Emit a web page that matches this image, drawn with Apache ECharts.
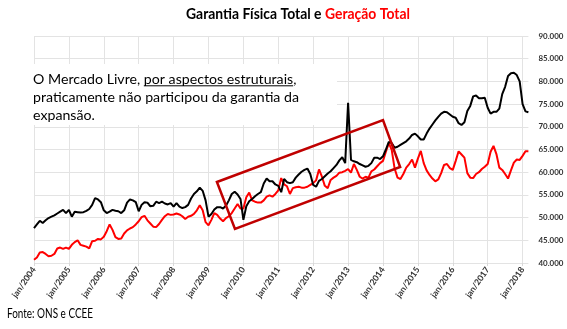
<!DOCTYPE html>
<html><head><meta charset="utf-8">
<script src="https://cdn.jsdelivr.net/npm/echarts@6/dist/echarts.min.js"></script>
<style>html,body{margin:0;padding:0;background:#fff}#c{width:567px;height:329px}</style>
</head><body><div id="c"></div>
<script>
// ---------- data ----------
const monthNames = ['jan','fev','mar','abr','mai','jun','jul','ago','set','out','nov','dez'];
const startYear = 2004;
const nPoints = 171; // jan/2004 .. mar/2018

const garantiaFisica = [
  47700,48500,49300,48800,49400,49900,50200,50500,50900,51300,51700,51000,
  51700,50200,51300,51200,51100,51200,51500,51900,52800,54300,54000,53400,
  51600,51000,51300,51700,51500,51400,51000,51600,53300,54000,53800,53400,
  51400,52800,53400,53300,52500,52600,53500,53200,53500,53100,52900,53200,
  52400,53200,52400,52100,52300,52800,54200,55200,55800,56600,55900,53800,
  50200,50800,51800,52300,52300,52000,52600,53800,55200,55700,55100,54100,
  49500,52500,53600,54100,54700,55200,55600,57500,58600,58000,58000,57300,
  57000,55600,58500,57800,57600,57800,58800,59500,60100,60500,60800,59600,
  57200,56800,58100,58500,59100,59700,60200,60900,61600,62600,63300,62000,
  75300,62700,62400,62200,61800,61500,61200,61400,62000,63200,63200,62900,
  63500,65000,66700,66400,65400,65600,66000,66400,66800,67400,68200,68500,
  67900,67200,67200,68500,69600,70500,71400,72200,72900,73300,73200,72700,
  72200,72000,70800,70400,71000,73500,74600,76700,76900,76300,76300,76400,
  74200,72900,73300,73300,74000,77200,78800,81200,81800,81900,81400,80000,
  75000,73400,73200
];
const geracao = [
  40700,41200,42300,42400,42000,41500,41600,42000,43200,43400,43100,43400,
  43100,44000,44600,45000,44000,43800,43600,43200,44800,44900,45300,45200,
  45800,47000,48500,47300,45700,45300,45400,46500,47200,47600,47900,48500,
  49200,50100,50400,49400,48700,48000,47900,48600,49500,50300,50800,50600,
  50700,50900,50700,50300,49700,50200,50400,50800,51600,52700,51600,49000,
  48300,49500,51000,50600,49800,49200,49900,50300,51000,52000,53000,52000,
  52000,54500,55500,53800,53500,53300,53300,53800,54600,54900,54600,55200,
  56000,58700,57300,56900,55200,56500,56700,56800,56600,56600,56800,57200,
  57600,58200,60600,59000,57000,56500,58300,58800,59200,59900,60000,60300,
  60700,59900,61800,60500,59000,58600,59000,58800,60200,60600,61300,62000,
  62500,64500,66400,64900,60800,58800,58500,59600,61000,61800,62800,61000,
  63000,64700,62000,60400,59400,58600,58000,58400,59800,61600,61800,60900,
  60500,62500,64600,63900,63200,59800,58800,58700,59600,60000,60700,61200,
  61800,64500,65800,64000,61000,60500,59600,58600,60400,62100,62800,62700,
  63600,64600,64600
];
const yMin = 40000, yMax = 90000, yStep = 5000;
// highlight box corners in data coordinates [month index, MW]
const boxCorners = [[62.9,57840],[120.0,71500],[125.9,61150],[69.1,47490]];

const titleBlack = 'Garantia Física Total e ';
const titleRed = 'Geração Total';
const noteLine1a = 'O Mercado Livre, ';
const noteLine1b = 'por aspectos estruturais';
const noteLine1c = ',';
const noteLine2 = 'praticamente não participou da garantia da';
const noteLine3 = 'expansão.';
const sourceText = 'Fonte: ONS e CCEE';

const categories = [];
for (let i = 0; i < nPoints; i++) categories.push(monthNames[i % 12] + '/' + (startYear + Math.floor(i / 12)));

// ---------- helpers ----------
const FONT = 'Lato';
const mctx = document.createElement('canvas').getContext('2d');
function textW(t, size, weight) { mctx.font = (weight || 'normal') + ' ' + size + 'px ' + FONT; return mctx.measureText(t).width; }
function fit(t, weight, target) { return 100 * target / textW(t, 100, weight); }

const titleSize = 14.2;
const titleScale = 224 / textW(titleBlack + titleRed, titleSize, 'bold');
const noteSize = 14;
const noteScale = 266 / textW(noteLine2, noteSize, 'normal');
const srcSize = 12.5;
const srcScale = 86 / textW(sourceText, srcSize, 'normal');
const xLabSize = fit('jan/2004', 'bold', 35);
const yLabSize = fit('90.000', 'bold', 25);

const chart = echarts.init(document.getElementById('c'), null, { renderer: 'canvas' });
const janOnly = (idx) => idx % 12 === 0;

chart.setOption({
  animation: false,
  backgroundColor: '#fff',
  grid: { left: 34, right: 567 - 528.4, top: 36, bottom: 66, containLabel: false },
  xAxis: {
    type: 'category', data: categories, boundaryGap: false,
    axisLine: { show: false },
    axisTick: { show: true, interval: janOnly, length: 3, lineStyle: { color: '#d9d9d9' } },
    splitLine: { show: true, interval: janOnly, lineStyle: { color: '#e3e3e3', width: 1 } },
    axisLabel: { interval: janOnly, rotate: 55, margin: 5, color: '#333', fontWeight: 'bold', fontSize: xLabSize, fontFamily: FONT }
  },
  yAxis: {
    type: 'value', position: 'right', min: yMin, max: yMax, interval: yStep,
    axisLine: { show: false }, axisTick: { show: false },
    splitLine: { lineStyle: { color: '#e3e3e3', width: 1 } },
    axisLabel: { margin: 10, color: '#333', fontWeight: 'bold', fontSize: yLabSize, fontFamily: FONT,
      formatter: v => (v / 1000).toFixed(0) + '.000' }
  },
  series: [
    { name: 'Garantia Física Total', type: 'line', data: garantiaFisica, showSymbol: false, symbol: 'none',
      lineStyle: { color: '#000', width: 2 }, itemStyle: { color: '#000' }, z: 3 },
    { name: 'Geração Total', type: 'line', data: geracao, showSymbol: false, symbol: 'none',
      lineStyle: { color: '#ff0000', width: 2 }, itemStyle: { color: '#ff0000' }, z: 2 }
  ]
});

function toPx(pt) {
  const i0 = Math.floor(pt[0]), f = pt[0] - i0;
  const a = chart.convertToPixel({ xAxisIndex: 0, yAxisIndex: 0 }, [i0, pt[1]]);
  const b = chart.convertToPixel({ xAxisIndex: 0, yAxisIndex: 0 }, [i0 + 1, pt[1]]);
  return [a[0] + f * (b[0] - a[0]), a[1]];
}
const boxPts = boxCorners.map(toPx);

const noteX = 33;
const baselines = [84.3, 102, 120];
const mid = (b, s) => b - s * 0.33;
const ulX0 = noteX + noteScale * textW(noteLine1a, noteSize);
const ulX1 = ulX0 + noteScale * textW(noteLine1b, noteSize);
const noteFont = 'normal ' + noteSize + 'px ' + FONT;

chart.setOption({
  graphic: [
    { type: 'text', z: 51, x: 186, y: mid(19.5, titleSize), scaleX: titleScale,
      style: { text: '{k|' + titleBlack + '}{r|' + titleRed + '}', verticalAlign: 'middle',
        rich: {
          k: { fill: '#000', fontWeight: 'bold', fontSize: titleSize, fontFamily: FONT },
          r: { fill: '#ff0000', fontWeight: 'bold', fontSize: titleSize, fontFamily: FONT }
        } } },
    { type: 'text', z: 51, x: 7, y: mid(318, srcSize), scaleX: srcScale,
      style: { text: sourceText, fill: '#000', font: 'normal ' + srcSize + 'px ' + FONT, verticalAlign: 'middle' } },
    { type: 'rect', z: 50, shape: { x: 24, y: 64, width: 313, height: 61 }, style: { fill: '#fff' } },
    { type: 'text', z: 51, x: noteX, y: mid(baselines[0], noteSize), scaleX: noteScale, style: { text: noteLine1a + noteLine1b + noteLine1c, fill: '#000', font: noteFont, verticalAlign: 'middle' } },
    { type: 'line', z: 51, shape: { x1: ulX0, y1: baselines[0] + 1.5, x2: ulX1, y2: baselines[0] + 1.5 }, style: { stroke: '#000', lineWidth: 1 } },
    { type: 'text', z: 51, x: noteX, y: mid(baselines[1], noteSize), scaleX: noteScale, style: { text: noteLine2, fill: '#000', font: noteFont, verticalAlign: 'middle' } },
    { type: 'text', z: 51, x: noteX, y: mid(baselines[2], noteSize), scaleX: noteScale, style: { text: noteLine3, fill: '#000', font: noteFont, verticalAlign: 'middle' } },
    { type: 'polygon', z: 60, shape: { points: boxPts }, style: { fill: 'none', stroke: '#c00000', lineWidth: 2.5 } }
  ]
});
</script></body></html>
